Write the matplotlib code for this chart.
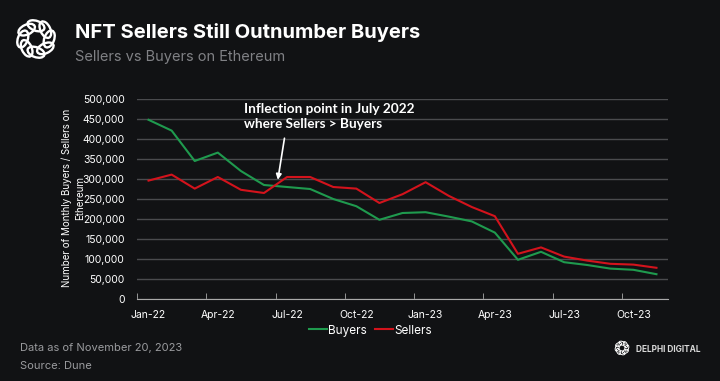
import numpy as np
import matplotlib
matplotlib.use("Agg")
import matplotlib.pyplot as plt
from matplotlib.patches import Ellipse

# monthly values, Jan-22 .. Nov-23
months = ["Jan-22", "Feb-22", "Mar-22", "Apr-22", "May-22", "Jun-22", "Jul-22", "Aug-22",
          "Sep-22", "Oct-22", "Nov-22", "Dec-22", "Jan-23", "Feb-23", "Mar-23", "Apr-23",
          "May-23", "Jun-23", "Jul-23", "Aug-23", "Sep-23", "Oct-23", "Nov-23"]
buyers = [448000, 421000, 345000, 366000, 320000, 285000, 280000, 275000, 250000, 232000,
          198000, 215000, 217000, 206000, 194000, 166000, 98000, 118000, 92000, 85000,
          76000, 73000, 62000]
sellers = [296000, 311000, 276000, 305000, 273000, 265000, 305000, 305000, 280000, 276000,
           240000, 262000, 292000, 258000, 230000, 207000, 113000, 129000, 106000, 96000,
           88000, 86000, 78000]

BG = "#111214"
GREEN = "#1f9a4e"
RED = "#d3131c"

plt.rcParams['font.family'] = ['Inter', 'DejaVu Sans']

fig = plt.figure(figsize=(7.2, 3.81), dpi=100, facecolor=BG)
ax = fig.add_axes([137/720, 1-299/381, 531/720, 200/381])
ax.set_facecolor(BG)

x = np.arange(len(months))
ax.plot(x, buyers, color=GREEN, lw=1.5, label="Buyers")
ax.plot(x, sellers, color=RED, lw=1.5, label="Sellers")

ax.set_xlim(-0.5, len(months) - 0.5)
ax.set_ylim(0, 500000)
ax.set_yticks(np.arange(0, 500001, 50000))
ax.yaxis.set_major_formatter(matplotlib.ticker.FuncFormatter(lambda v, p: f"{int(v):,}"))
ax.grid(axis="y", color="#4a4b4e", lw=1.0)
ax.set_axisbelow(True)

# tick marks on the category boundaries, labels every 3rd month
ax.set_xticks(np.arange(0, len(months), 3) - 0.5, minor=True)
ax.set_xticks(x[::3])
ax.set_xticklabels(months[::3])
ax.tick_params(axis="x", which="major", length=0, pad=8, colors="white", labelsize=7.5)
ax.tick_params(axis="x", which="minor", length=4, color="#aaaaaa", direction="in")
ax.tick_params(axis="y", length=0, pad=9, colors="white", labelsize=7.5)
for s in ["top", "right", "left"]:
    ax.spines[s].set_visible(False)
ax.spines["bottom"].set_color("#aaaaaa")

fig.text(73.5/720, 1-198/381, "Number of Monthly Buyers / Sellers on\nEthereum", rotation=90,
         ha="center", va="center", multialignment="center", color="white", fontsize=7,
         linespacing=1.45)

leg = ax.legend(loc="upper center", bbox_to_anchor=(0.44, -0.075), ncol=2, frameon=False,
                handlelength=1.5, handletextpad=0.1, columnspacing=0.7, fontsize=8.5,
                labelcolor="white")

ax.annotate("Inflection point in July 2022\nwhere Sellers > Buyers",
            xy=(5.6, 298000), xytext=(244/720, 1-103/381), textcoords="figure fraction",
            ha="left", va="top", color="white", fontsize=9.8, fontweight="bold",
            family=["Lato", "DejaVu Sans"], linespacing=1.3,
            arrowprops=dict(arrowstyle="-|>", color="white", lw=1.2, mutation_scale=8,
                            shrinkA=6, shrinkB=0, patchA=None,
                            relpos=(0.245, 0.0)))

fig.text(75/720, 1-33/381, "NFT Sellers Still Outnumber Buyers", color="white",
         fontsize=14.5, fontweight="bold", va="center", ha="left")
fig.text(75/720, 1-57/381, "Sellers vs Buyers on Ethereum", color="#808185",
         fontsize=10.5, va="center", ha="left")
fig.text(20/720, 1-348/381, "Data as of November 20, 2023", color="#9a9b9e",
         fontsize=8, va="center", ha="left")
fig.text(20/720, 1-366/381, "Source: Dune", color="#9a9b9e",
         fontsize=8, va="center", ha="left")
fig.text(636/720, 1-349/381, "DELPHI DIGITAL", color="#d8d8d8",
         fontsize=6, va="center", ha="left", fontweight="bold")


def logo(cx, cy, size, lw):
    la = fig.add_axes([(cx - size/2)/720, 1-(cy + size/2)/381, size/720, size/381])
    la.set_xlim(-1, 1)
    la.set_ylim(-1, 1)
    la.axis("off")
    for k in range(8):
        a = k * np.pi / 4
        e = Ellipse((0.6*np.cos(a), 0.6*np.sin(a)), 0.8, 0.45,
                    angle=np.degrees(a) + 70, fill=False, ec="white", lw=lw)
        la.add_patch(e)


logo(36, 39, 44, 1.7)
logo(622, 348, 16, 0.7)

fig.savefig("out.png", dpi=100, facecolor=BG)
